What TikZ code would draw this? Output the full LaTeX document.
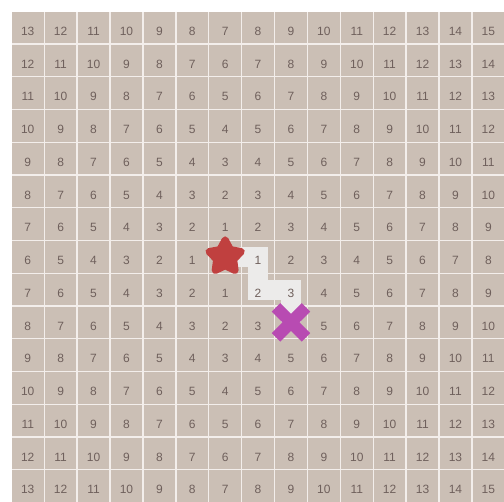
\documentclass[tikz,border=0pt]{standalone}
\usepackage{fontspec}
\setmainfont{Liberation Sans}
\usetikzlibrary{shapes.geometric}
\definecolor{tan}{HTML}{CBBFB5}
\definecolor{seam}{HTML}{F3EEEB}
\definecolor{numgray}{HTML}{6F605C}
\definecolor{trailgray}{HTML}{ECEBEA}
\definecolor{starred}{HTML}{C0403F}
\definecolor{goalpink}{HTML}{B84BB2}
\begin{document}
\begin{tikzpicture}[x=1pt,y=-1pt,
  cell/.style={fill=tan,minimum size=31.5pt,inner sep=0pt},
  num/.style={text=numgray,font=\fontsize{12}{12}\selectfont,inner sep=0pt,text height=8.6pt,text depth=0pt,yshift=-3.5pt},
  trail/.style={draw=trailgray,line width=20pt,line join=miter},
  cross/.style={draw=goalpink,line width=12pt,line cap=butt}]
\useasboundingbox (0,0) rectangle (504,502);
\fill[seam] (12,11.7) rectangle (504,502);
\foreach \r in {0,...,14}{\foreach \c in {0,...,14}{\node[cell] (c-\r-\c) at ({27.75+32.9*\c},{27.5+32.76*\r}) {};}}
\draw[trail] (c-7-6.center)--(c-7-7.center)--(c-8-7.center)--(c-8-8.center)--(c-9-8.center);
\foreach \r in {0,...,14}{\foreach \c in {0,...,14}{
  \pgfmathtruncatemacro\dist{abs(\r-7)+abs(\c-6)}\pgfmathtruncatemacro\hideit{((\r==7)&&(\c==6))||((\r==9)&&(\c==8))}
  \ifnum\hideit=0 \node[num] (n-\r-\c) at (c-\r-\c) {\dist};\fi}}
\node[star,star points=5,star point ratio=1.9,fill=starred,draw=starred,line width=7pt,line join=round,minimum size=34pt,inner sep=0pt] (start) at (c-7-6) {};
\node[inner sep=0pt] (goal) at (c-9-8) {};
\draw[cross] ([shift={(-15,-15)}]goal.center)--([shift={(15,15)}]goal.center);\draw[cross] ([shift={(-15,15)}]goal.center)--([shift={(15,-15)}]goal.center);
\end{tikzpicture}
\end{document}
